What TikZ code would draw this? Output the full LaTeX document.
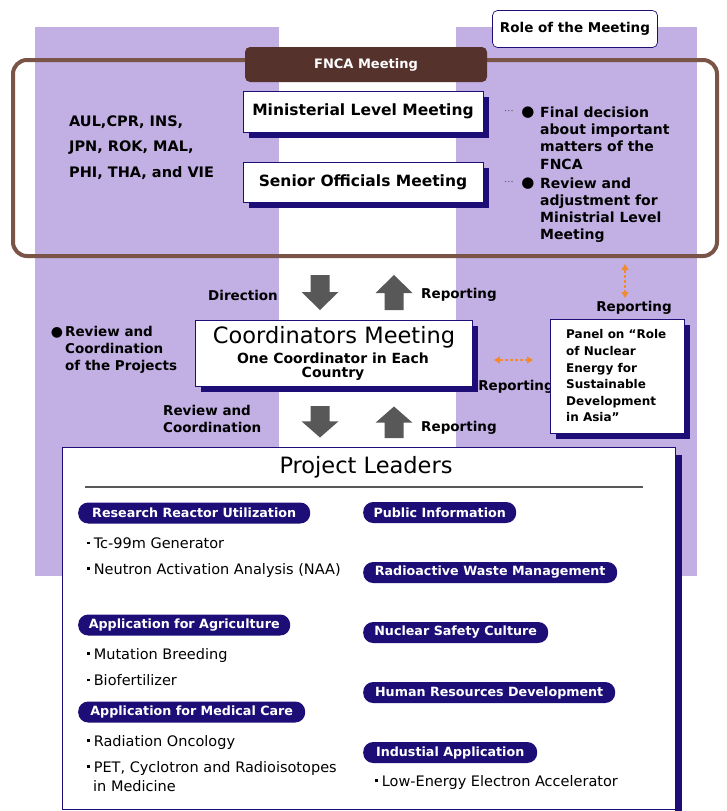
\documentclass[tikz,border=0pt]{standalone}
\usepackage{fontspec}
\setmainfont{DejaVu Sans}
\usetikzlibrary{arrows.meta,shadows}
\definecolor{lav}{RGB}{194,176,228}
\definecolor{navy}{RGB}{28,14,118}
\definecolor{brn}{RGB}{122,84,70}
\definecolor{dbrn}{RGB}{86,50,44}
\definecolor{agray}{RGB}{88,88,88}
\definecolor{orng}{RGB}{242,138,48}
\newcommand\fsz[2]{\fontsize{#1}{#2}\selectfont}
\newcommand\sqb{\rule[0.28em]{2.6pt}{2.6pt}\hspace{4pt}}
\begin{document}
\begin{tikzpicture}[x=1pt,y=-1pt,
  every node/.style={inner sep=0pt},
  sbox/.style={draw=navy, line width=0.7pt, fill=white,
    drop shadow={shadow xshift=6pt, shadow yshift=-6pt, fill=navy, opacity=1}},
  boxlbl/.style={font=\bfseries\fsz{15.5}{18}},
  lbl/.style={font=\bfseries\fsz{13.5}{17}, align=left},
  roletxt/.style={font=\bfseries\fsz{14}{17.2}, align=left, anchor=west},
  pill/.style={fill=navy, rounded corners=10pt, minimum height=21pt, text=white,
    font=\bfseries\fsz{12.7}{14}, anchor=west},
  item/.style={font=\fsz{14.5}{16}, anchor=west},
  oarr/.style={orng, line width=1.6pt, dashed, dash pattern=on 3pt off 2pt,
    {Triangle[length=6pt,width=7pt]}-{Triangle[length=6pt,width=7pt]}},
  darrow/.pic={\fill[agray] (-9.5,0) -- (9.5,0) -- (9.5,17) -- (18.5,17) -- (0,35)
     -- (-18.5,17) -- (-9.5,17) -- cycle;},
  uarrow/.pic={\fill[agray] (-9.5,0) -- (9.5,0) -- (9.5,-17) -- (18.5,-17) -- (0,-35)
     -- (-18.5,-17) -- (-9.5,-17) -- cycle;}
]
\useasboundingbox (0,0) rectangle (726,811);
\fill[white] (0,0) rectangle (726,811);
% lavender columns
\fill[lav] (35,27) rectangle (279,576);
\fill[lav] (456,27) rectangle (697,576);

% role of the meeting
\node[draw=navy, line width=0.7pt, rounded corners=5pt, fill=white,
  minimum width=165, minimum height=37, font=\bfseries\fsz{13.5}{15}] (role) at (575,29) {Role of the Meeting};

% FNCA frame
\node[draw=brn, line width=4pt, rounded corners=14pt, minimum width=704, minimum height=196] (frame) at (365,158) {};
\node[fill=dbrn, rounded corners=5pt, minimum width=242, minimum height=35, text=white,
  font=\bfseries\fsz{13}{15}] (fnca) at (366,64.5) {FNCA Meeting};

\node[sbox, boxlbl, minimum width=240, minimum height=41] (minist) at (363,111.5) {Ministerial Level Meeting};
\node[sbox, boxlbl, minimum width=240, minimum height=40] (senior) at (363,182) {Senior Officials Meeting};

\node[font=\bfseries\fsz{14.5}{25.5}, align=left, anchor=west] (ctry) at (69,147.5) {AUL,CPR, INS,\\JPN, ROK, MAL,\\PHI, THA, and VIE};

% roles
\node[font=\fsz{10}{10}, text=agray] (d1) at (509,112) {···};
\node[font=\fsz{15}{15}] (b1) at (528,113) {●};
\node[roletxt] (r1) at (540,138) {Final decision\\about important\\matters of the\\FNCA};
\node[font=\fsz{10}{10}, text=agray] (d2) at (509,183) {···};
\node[font=\fsz{15}{15}] (b2) at (528,184) {●};
\node[roletxt] (r2) at (540,210) {Review and\\adjustment for\\Ministrial Level\\Meeting};

% arrows upper
\pic at (320,275) {darrow};
\pic at (394,310) {uarrow};
\node[lbl, anchor=west] (dir) at (208,295) {Direction};
\node[lbl, anchor=west] (rep1) at (421,295) {Reporting};

% orange vertical
\coordinate (ot) at (625,264);
\coordinate (ob) at (625,298);
\draw[oarr] (ot) -- (ob);
\node[lbl] (rep2) at (634,308) {Reporting};

% coordinators
\node[sbox, minimum width=277, minimum height=66] (coord) at (333.5,353) {};
\node[font=\fsz{22.5}{24}] (ct1) at (334,337) {Coordinators Meeting};
\node[font=\bfseries\fsz{14}{16}] (ct2) at (333,358) {One Coordinator in Each};
\node[font=\bfseries\fsz{14}{16}] (ct3) at (333,374) {Country};

\node[font=\fsz{14}{14}] (rb) at (57,333) {●};
\node[lbl, anchor=west] (revp) at (65,350) {Review and\\Coordination\\of the Projects};

% orange horizontal
\coordinate (ol) at (494,360);
\coordinate (or) at (533,360);
\draw[oarr] (ol) -- (or);
\node[lbl] (rep3) at (516,387) {Reporting};

% panel
\node[sbox, minimum width=134, minimum height=114] (panel) at (617,376) {};
\node[font=\bfseries\fsz{12}{16.6}, align=left, anchor=west] (pantxt) at (566,376) {Panel on “Role\\of Nuclear\\Energy for\\Sustainable\\Development\\in Asia”};

% lower arrows
\pic[yscale=0.9] at (320,406) {darrow};
\pic[yscale=0.9] at (394,438) {uarrow};
\node[lbl, anchor=west] (revc) at (163,418.5) {Review and\\Coordination};
\node[lbl, anchor=west] (rep4) at (421,428) {Reporting};

% project leaders
\fill[navy] (675,455) rectangle (682,811);
\node[draw=navy, line width=0.6pt, fill=white, minimum width=613, minimum height=362] (pl) at (368.5,628) {};
\node[font=\fsz{22.5}{24}] (plt) at (366,467) {Project Leaders};
\draw[agray, line width=1.2pt] (85,487) -- (643,487);

\node[pill, minimum width=232] (p1) at (78,513) {Research Reactor Utilization};
\node[item] (i1) at (87,543) {\sqb Tc-99m Generator};
\node[item] (i2) at (87,570) {\sqb Neutron Activation Analysis (NAA)};
\node[pill, minimum width=212] (p2) at (78,625) {Application for Agriculture};
\node[item] (i3) at (87,655) {\sqb Mutation Breeding};
\node[item] (i4) at (87,680) {\sqb Biofertilizer};
\node[pill, minimum width=227] (p3) at (78,712) {Application for Medical Care};
\node[item] (i5) at (87,742) {\sqb Radiation Oncology};
\node[item] (i6) at (87,768) {\sqb PET, Cyclotron and Radioisotopes};
\node[item] (i7) at (93,786) {in Medicine};

\node[pill, minimum width=153] (q1) at (363,512.5) {Public Information};
\node[pill, minimum width=254] (q2) at (363,572.5) {Radioactive Waste Management};
\node[pill, minimum width=185] (q3) at (363,632.5) {Nuclear Safety Culture};
\node[pill, minimum width=252] (q4) at (363,692.5) {Human Resources Development};
\node[pill, minimum width=174] (q5) at (363,752.5) {Industial Application};
\node[item] (i8) at (375,782) {\sqb Low-Energy Electron Accelerator};
\end{tikzpicture}
\end{document}
